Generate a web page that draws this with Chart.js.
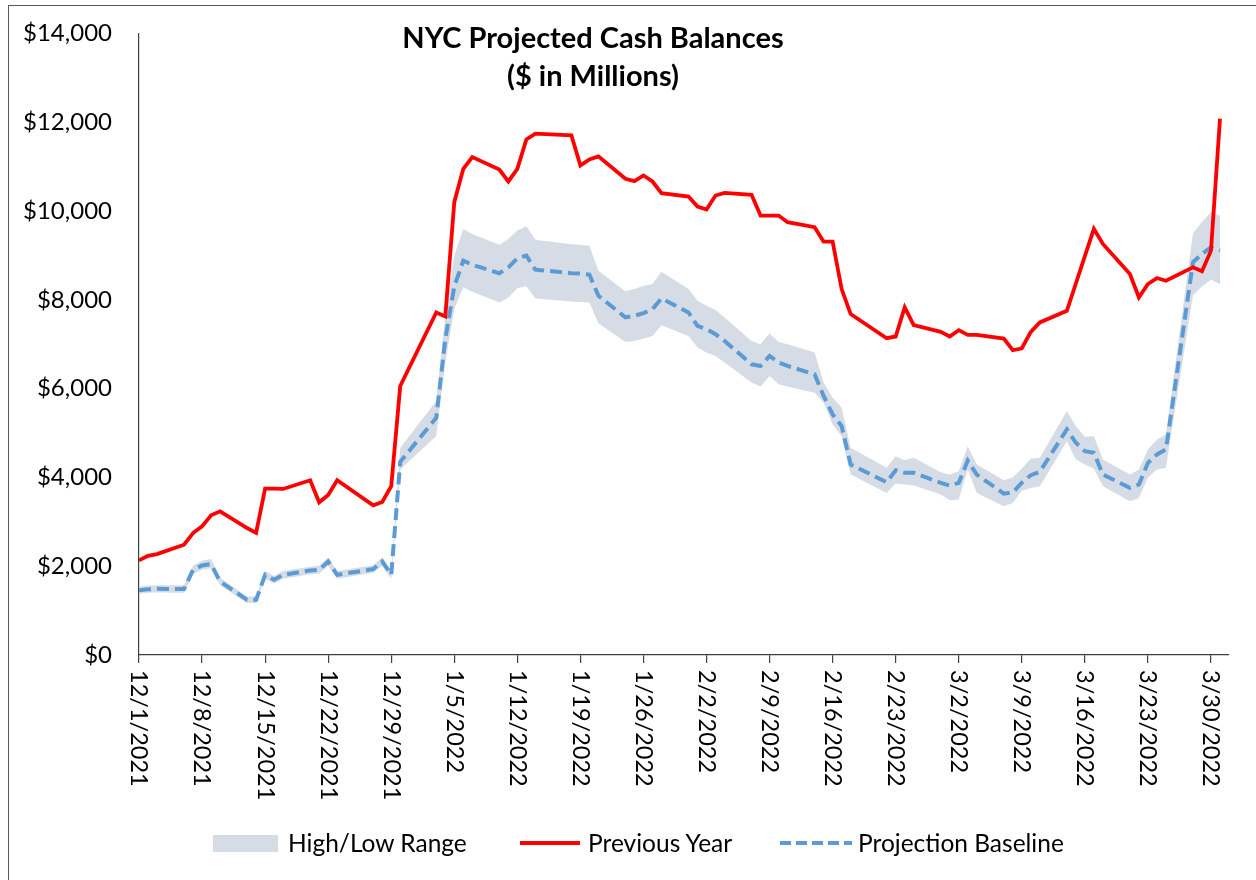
<!DOCTYPE html>
<html lang="en">
<head>
<meta charset="UTF-8">
<title>NYC Projected Cash Balances</title>
<script src="https://cdn.jsdelivr.net/npm/chart.js"></script>
<style>
  body { margin: 0; background: #fff; font-family: Lato, "Open Sans", sans-serif; color: #000; }
  #wrap { position: relative; width: 1256px; height: 880px; overflow: hidden; }
  #frame { position: absolute; left: 8px; top: 5px; width: 1270px; height: 900px; border: 1px solid #595959; }
  #chart { position: absolute; left: 0; top: 0; }
  .title { position: absolute; left: 293px; width: 600px; text-align: center; font-weight: bold; font-size: 29px; line-height: 32px; }
  .lg { position: absolute; font-size: 24.5px; line-height: 28px; top: 829px; white-space: nowrap; }
  .sw { position: absolute; }
</style>
</head>
<body>
<div id="wrap">
  <div id="frame"></div>
  <canvas id="chart" width="1256" height="880"></canvas>
  <div class="title" style="top:21px">NYC Projected Cash Balances</div>
  <div class="title" style="top:59px">($ in Millions)</div>

  <!-- legend -->
  <div class="sw" style="left:213px; top:835px; width:65px; height:17px; background:#d6dce5"></div>
  <div class="lg" style="left:288px">High/Low Range</div>
  <div class="sw" style="left:520px; top:841px; width:60px; height:4px; background:#ff0000"></div>
  <div class="lg" style="left:588px">Previous Year</div>
  <div class="sw" style="left:780px; top:841px; width:72px; height:4px; background:repeating-linear-gradient(to right, #5b9bd5 0 11px, transparent 11px 16px)"></div>
  <div class="lg" style="left:858px">Projection Baseline</div>
</div>

<script>
// dates of the data points (business days)
const dates = [
  '12/1/2021','12/2/2021','12/3/2021','12/6/2021','12/7/2021','12/8/2021','12/9/2021','12/10/2021',
  '12/13/2021','12/14/2021','12/15/2021','12/16/2021','12/17/2021','12/20/2021','12/21/2021','12/22/2021',
  '12/23/2021','12/27/2021','12/28/2021','12/29/2021','12/30/2021',
  '1/3/2022','1/4/2022','1/5/2022','1/6/2022','1/7/2022','1/10/2022','1/11/2022','1/12/2022','1/13/2022','1/14/2022',
  '1/18/2022','1/19/2022','1/20/2022','1/21/2022','1/24/2022','1/25/2022','1/26/2022','1/27/2022','1/28/2022',
  '1/31/2022','2/1/2022','2/2/2022','2/3/2022','2/4/2022','2/7/2022','2/8/2022','2/9/2022','2/10/2022','2/11/2022',
  '2/14/2022','2/15/2022','2/16/2022','2/17/2022','2/18/2022','2/22/2022','2/23/2022','2/24/2022','2/25/2022',
  '2/28/2022','3/1/2022','3/2/2022','3/3/2022','3/4/2022','3/7/2022','3/8/2022','3/9/2022','3/10/2022','3/11/2022',
  '3/14/2022','3/15/2022','3/16/2022','3/17/2022','3/18/2022','3/21/2022','3/22/2022','3/23/2022','3/24/2022','3/25/2022',
  '3/28/2022','3/29/2022','3/30/2022','3/31/2022'
];

const previousYear = [
  2130, 2235, 2273, 2484, 2747, 2898, 3146, 3236,
  2860, 2750, 3748, 3745, 3740, 3936, 3439, 3605,
  3936, 3372, 3448, 3800, 6058,
  7715, 7625, 10199, 10951, 11215, 10935, 10665, 10951, 11613, 11742,
  11703, 11026, 11162, 11230, 10726, 10673, 10800, 10665, 10402,
  10326, 10100, 10032, 10349, 10409, 10364, 9897, 9897, 9897, 9748,
  9635, 9310, 9310, 8242, 7677, 7135, 7174, 7829, 7429,
  7278, 7174, 7316, 7210, 7210, 7128, 6864, 6909, 7278, 7490,
  7752, 8367, 8982, 9597, 9258, 8581, 8054, 8355, 8490, 8430,
  8731, 8641, 9107, 12080
];

const baseline = [
  1460, 1480, 1490, 1484, 1919, 2016, 2048, 1655,
  1242, 1242, 1806, 1694, 1806, 1904, 1919, 2107,
  1806, 1935, 2107, 1806, 4350,
  5345, 7113, 8300, 8881, 8791, 8596, 8731, 8935, 8994, 8678,
  8600, 8590, 8565, 8091, 7603, 7640, 7700, 7790, 8032,
  7715, 7413, 7339, 7226, 7074, 6548, 6510, 6736, 6586, 6510,
  6322, 5833, 5419, 5155, 4290, 3891, 4162, 4102, 4102,
  3877, 3816, 3877, 4380, 4064, 3635, 3660, 3880, 4050, 4130,
  5080, 4779, 4591, 4554, 4064, 3764, 3839, 4328, 4516, 4629,
  8845, 9032, 9183, 9107
];

const rangeLow = [
  1380, 1400, 1410, 1400, 1830, 1920, 1950, 1570,
  1170, 1170, 1720, 1610, 1720, 1820, 1830, 2010,
  1720, 1850, 2010, 1720, 4177,
  4930, 6590, 7800, 8280, 8181, 7941, 8054, 8258, 8303, 8032,
  7960, 7950, 7941, 7474, 7052, 7074, 7129, 7187, 7429,
  7187, 6925, 6812, 6736, 6586, 6135, 6045, 6284, 6097, 6045,
  5909, 5683, 5193, 4929, 4064, 3651, 3861, 3839, 3816,
  3613, 3484, 3500, 4177, 3651, 3349, 3424, 3700, 3760, 3800,
  4817, 4403, 4290, 4193, 3800, 3461, 3537, 3997, 4177, 4215,
  8100, 8300, 8450, 8350
];

const rangeHigh = [
  1540, 1560, 1570, 1570, 2010, 2120, 2160, 1740,
  1320, 1320, 1890, 1780, 1890, 1990, 2010, 2200,
  1890, 2020, 2200, 1890, 4667,
  5720, 7640, 9000, 9597, 9484, 9242, 9371, 9558, 9657, 9355,
  9250, 9235, 9220, 8655, 8190, 8242, 8317, 8355, 8633,
  8242, 7978, 7865, 7768, 7603, 7074, 7000, 7241, 7052, 7000,
  6812, 6135, 5796, 5570, 4667, 4215, 4478, 4388, 4441,
  4117, 4064, 4140, 4704, 4290, 3936, 4000, 4200, 4418, 4441,
  5494, 5155, 4915, 4929, 4403, 4064, 4177, 4629, 4855, 4968,
  9500, 9750, 9980, 9900
];

const tickLabels = [
  '12/1/2021','12/8/2021','12/15/2021','12/22/2021','12/29/2021','1/5/2022','1/12/2022','1/19/2022',
  '1/26/2022','2/2/2022','2/9/2022','2/16/2022','2/23/2022','3/2/2022','3/9/2022','3/16/2022','3/23/2022','3/30/2022'
];
const axisEnd = '4/1/2022';

// days since 12/1/2021
function dayOf(s) {
  const [m, d, y] = s.split('/').map(Number);
  return Math.round((Date.UTC(y, m - 1, d) - Date.UTC(2021, 11, 1)) / 864e5);
}
function pts(vals) {
  return vals.map((v, i) => ({ x: dayOf(dates[i]), y: v }));
}

// rotated date labels (text reads top to bottom)
const xLabels = {
  id: 'xLabels',
  afterDraw(chart) {
    const xs = chart.scales.x, ctx = chart.ctx;
    ctx.save();
    ctx.font = '23.5px Lato';
    ctx.fillStyle = '#000';
    ctx.textAlign = 'left';
    ctx.textBaseline = 'middle';
    tickLabels.forEach(lbl => {
      ctx.save();
      ctx.translate(xs.getPixelForValue(dayOf(lbl)), xs.top + 15);
      ctx.rotate(Math.PI / 2);
      ctx.fillText(lbl, 0, 0);
      ctx.restore();
    });
    ctx.restore();
  }
};

new Chart(document.getElementById('chart'), {
  type: 'line',
  data: {
    datasets: [
      { label: 'Low', data: pts(rangeLow), borderWidth: 0, pointRadius: 0, fill: false, order: 4 },
      { label: 'High/Low Range', data: pts(rangeHigh), borderWidth: 0, pointRadius: 0,
        fill: '-1', backgroundColor: '#d6dce5', order: 3 },
      { label: 'Projection Baseline', data: pts(baseline), borderColor: '#5b9bd5', borderWidth: 4,
        borderDash: [12, 6], pointRadius: 0, fill: false, order: 2 },
      { label: 'Previous Year', data: pts(previousYear), borderColor: '#ff0000', borderWidth: 3.8,
        pointRadius: 0, fill: false, order: 1 }
    ]
  },
  options: {
    responsive: false,
    animation: false,
    layout: { padding: { top: 30, right: 27, left: 0, bottom: 0 } },
    plugins: { legend: { display: false }, tooltip: { enabled: false } },
    scales: {
      x: {
        type: 'linear',
        min: 0,
        max: dayOf(axisEnd),
        afterBuildTicks: s => { s.ticks = tickLabels.map(l => ({ value: dayOf(l) })); },
        afterFit: s => { s.height = 225; },
        ticks: { display: false },
        grid: { display: true, drawOnChartArea: false, drawTicks: true, tickLength: 8, color: '#404040', lineWidth: 1.2 },
        border: { display: true, color: '#404040', width: 1.2 }
      },
      y: {
        min: 0,
        max: 14000,
        afterFit: s => { s.width = 139; },
        ticks: {
          stepSize: 2000,
          padding: 19,
          color: '#000',
          font: { family: 'Lato', size: 24 },
          callback: v => '$' + v.toLocaleString('en-US')
        },
        grid: { display: false },
        border: { display: true, color: '#404040', width: 1.2 }
      }
    }
  },
  plugins: [xLabels]
});
</script>
</body>
</html>
